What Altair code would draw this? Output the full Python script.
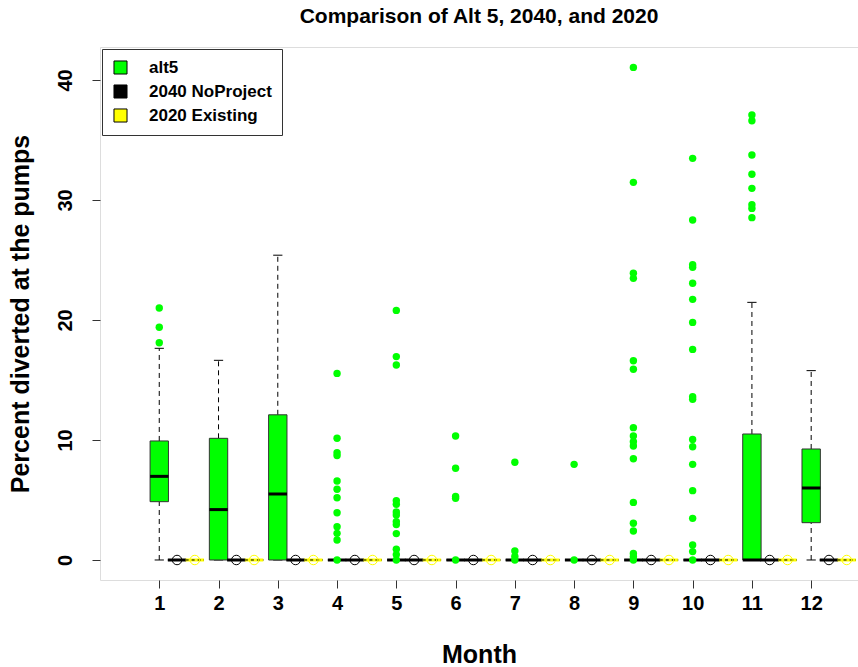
import altair as alt
import pandas as pd

# ---------------- data ----------------
months = [1, 2, 3, 4, 5, 6, 7, 8, 9, 10, 11, 12]
series = ["alt5", "2040 NoProject", "2020 Existing"]
series_offset = [0.0, 0.3, 0.6]
series_fill = ["#00FF00", "#000000", "#FFFF00"]
series_medcol = ["#000000", "#000000", "#FFFF00"]
series_ptcol = ["#00FF00", "#000000", "#FFFF00"]

# alt5 box statistics per month
alt5_lo = [0, 0, 0, 0, 0, 0, 0, 0, 0, 0, 0, 0]
alt5_q1 = [4.86, 0, 0, 0, 0, 0, 0, 0, 0, 0, 0, 3.11]
alt5_med = [6.97, 4.2, 5.5, 0, 0, 0, 0, 0, 0, 0, 0, 6.0]
alt5_q3 = [9.92, 10.14, 12.1, 0, 0, 0, 0, 0, 0, 0, 10.5, 9.25]
alt5_hi = [17.64, 16.64, 25.4, 0, 0, 0, 0, 0, 0, 0, 21.47, 15.78]

# 2040 NoProject and 2020 Existing: all statistics at zero
np2040_lo = [0, 0, 0, 0, 0, 0, 0, 0, 0, 0, 0, 0]
np2040_q1 = [0, 0, 0, 0, 0, 0, 0, 0, 0, 0, 0, 0]
np2040_med = [0, 0, 0, 0, 0, 0, 0, 0, 0, 0, 0, 0]
np2040_q3 = [0, 0, 0, 0, 0, 0, 0, 0, 0, 0, 0, 0]
np2040_hi = [0, 0, 0, 0, 0, 0, 0, 0, 0, 0, 0, 0]
ex2020_lo = [0, 0, 0, 0, 0, 0, 0, 0, 0, 0, 0, 0]
ex2020_q1 = [0, 0, 0, 0, 0, 0, 0, 0, 0, 0, 0, 0]
ex2020_med = [0, 0, 0, 0, 0, 0, 0, 0, 0, 0, 0, 0]
ex2020_q3 = [0, 0, 0, 0, 0, 0, 0, 0, 0, 0, 0, 0]
ex2020_hi = [0, 0, 0, 0, 0, 0, 0, 0, 0, 0, 0, 0]

# alt5 outliers per month
alt5_out = {
    1: [21.0, 19.4, 18.1],
    2: [],
    3: [],
    4: [15.55, 10.14, 8.94, 8.7, 6.58, 5.89, 5.19, 3.94, 2.78, 2.22, 1.67, 0.0],
    5: [20.8, 16.95, 16.25, 4.95, 4.65, 4.0, 3.75, 3.2, 2.95, 2.2, 0.9, 0.45, 0.0],
    6: [10.33, 7.64, 5.3, 5.15, 0.0],
    7: [8.14, 0.75, 0.3, 0.0],
    8: [7.97, 0.0],
    9: [41.05, 31.47, 23.89, 23.47, 16.6, 15.9, 11.03, 10.33, 9.86, 9.5, 8.44,
        4.8, 3.06, 2.42, 0.55, 0.28, 0.0],
    10: [33.47, 28.33, 24.6, 24.4, 23.06, 21.72, 19.8, 17.55, 13.6, 13.4, 10.05,
         9.44, 7.97, 5.78, 3.47, 1.25, 0.7, 0.0],
    11: [37.08, 36.6, 33.75, 32.14, 30.97, 29.6, 29.3, 28.53],
    12: [],
}
# 2040 / 2020 outliers (open circles at zero)
np2040_out = [0, 0, 0, 0, 0, 0, 0, 0, 0, 0, 0, 0]
ex2020_out = [0, 0, 0, 0, 0, 0, 0, 0, 0, 0, 0, 0]

x_ticks = [1, 2, 3, 4, 5, 6, 7, 8, 9, 10, 11, 12]
y_ticks = [0, 10, 20, 30, 40]

# ---------------- tables ----------------
half_box = 0.155
half_cap = 0.078
stats = {
    "alt5": (alt5_lo, alt5_q1, alt5_med, alt5_q3, alt5_hi),
    "2040 NoProject": (np2040_lo, np2040_q1, np2040_med, np2040_q3, np2040_hi),
    "2020 Existing": (ex2020_lo, ex2020_q1, ex2020_med, ex2020_q3, ex2020_hi),
}
rows = []
for s, off, mc in zip(series, series_offset, series_medcol):
    lo, q1, med, q3, hi = stats[s]
    for i, m in enumerate(months):
        p = m + off
        rows.append(dict(series=s, pos=p, bx1=p - half_box, bx2=p + half_box,
                         cx1=p - half_cap, cx2=p + half_cap,
                         lo=lo[i], q1=q1[i], med=med[i], q3=q3[i], hi=hi[i],
                         medcol=mc))
boxes = pd.DataFrame(rows)

pts = []
for m in months:
    for v in alt5_out[m]:
        pts.append(dict(pos=m + series_offset[0], val=v))
alt5_pts = pd.DataFrame(pts)

opts = []
for i, m in enumerate(months):
    opts.append(dict(pos=m + series_offset[1], val=np2040_out[i], col=series_ptcol[1]))
    opts.append(dict(pos=m + series_offset[2], val=ex2020_out[i], col=series_ptcol[2]))
open_pts = pd.DataFrame(opts)

# ---------------- scales / axes ----------------
FONT = "Liberation Sans"
xscale = alt.Scale(domain=[0.0, 12.79], nice=False, zero=False)
yscale = alt.Scale(domain=[-1.667, 42.75], nice=False, zero=False)
xax = alt.Axis(values=x_ticks, title="Month", format="d", grid=False, domain=False,
               tickSize=8, tickColor="#333333", labelFont=FONT, labelFontSize=20,
               labelFontWeight="bold", labelColor="black", labelPadding=5,
               titleFont=FONT, titleFontSize=25, titleFontWeight="bold",
               titleColor="black", titlePadding=29, labelFlush=False)
yax = alt.Axis(values=y_ticks, title="Percent diverted at the pumps", grid=False,
               domain=False, tickSize=8, tickColor="#333333", labelFont=FONT,
               labelFontSize=20, labelFontWeight="bold", labelColor="black",
               labelAngle=270, labelPadding=17, titleFont=FONT, titleFontSize=25,
               titleFontWeight="bold", titleColor="black", titlePadding=22,
               labelFlush=False)

base_box = alt.Chart(boxes)

whisk_up = base_box.mark_rule(color="black", strokeWidth=1, strokeDash=[5, 4]).encode(
    x=alt.X("pos:Q", scale=xscale, axis=xax),
    y=alt.Y("q3:Q", scale=yscale, axis=yax),
    y2="hi:Q",
)
whisk_dn = base_box.mark_rule(color="black", strokeWidth=1, strokeDash=[5, 4]).encode(
    x=alt.X("pos:Q", scale=xscale, axis=xax),
    y=alt.Y("lo:Q", scale=yscale, axis=yax),
    y2="q1:Q",
)
cap_hi = base_box.mark_rule(color="black", strokeWidth=1).encode(
    x=alt.X("cx1:Q", scale=xscale, axis=xax), x2="cx2:Q",
    y=alt.Y("hi:Q", scale=yscale, axis=yax),
)
cap_lo = base_box.mark_rule(color="black", strokeWidth=1).encode(
    x=alt.X("cx1:Q", scale=xscale, axis=xax), x2="cx2:Q",
    y=alt.Y("lo:Q", scale=yscale, axis=yax),
)
rects = base_box.mark_rect(stroke="#333333", strokeWidth=1).encode(
    x=alt.X("bx1:Q", scale=xscale, axis=xax), x2="bx2:Q",
    y=alt.Y("q1:Q", scale=yscale, axis=yax), y2="q3:Q",
    fill=alt.Fill("series:N", scale=alt.Scale(domain=series, range=series_fill),
                  legend=alt.Legend(
                      orient="none", legendX=2, legendY=2, title=None,
                      symbolType="square", symbolSize=170,
                      symbolStrokeColor="black", symbolStrokeWidth=1,
                      symbolOpacity=1, labelFont=FONT, labelFontSize=17,
                      labelFontWeight="bold", labelColor="black",
                      labelOffset=20, padding=10, rowPadding=5,
                      strokeColor="#333333", fillColor="white",
                      cornerRadius=0)),
)
medians = base_box.mark_rule(strokeWidth=3).encode(
    x=alt.X("bx1:Q", scale=xscale, axis=xax), x2="bx2:Q",
    y=alt.Y("med:Q", scale=yscale, axis=yax),
    color=alt.Color("medcol:N", scale=None),
)
med2020 = base_box.transform_filter(alt.datum.series == "2020 Existing").mark_rule(
    strokeWidth=1, color="black", strokeDash=[3, 3]).encode(
    x=alt.X("bx1:Q", scale=xscale, axis=xax), x2="bx2:Q",
    y=alt.Y("med:Q", scale=yscale, axis=yax),
)
green_pts = alt.Chart(alt5_pts).mark_circle(size=55, opacity=1, color="#00FF00").encode(
    x=alt.X("pos:Q", scale=xscale, axis=xax),
    y=alt.Y("val:Q", scale=yscale, axis=yax),
)
hollow = alt.Chart(open_pts).mark_point(shape="circle", size=90, filled=False,
                                        strokeWidth=1, opacity=1).encode(
    x=alt.X("pos:Q", scale=xscale, axis=xax),
    y=alt.Y("val:Q", scale=yscale, axis=yax),
    stroke=alt.Stroke("col:N", scale=None),
)

chart = alt.layer(
    whisk_up, whisk_dn, cap_hi, cap_lo, rects, medians, med2020, green_pts, hollow
).properties(
    width=758, height=533,
    title=alt.TitleParams("Comparison of Alt 5, 2040, and 2020", font=FONT,
                          fontSize=21, fontWeight="bold", color="black",
                          anchor="middle", offset=20),
    autosize=alt.AutoSizeParams(type="none"),
    padding={"left": 100, "top": 47, "right": 0, "bottom": 87},
).configure_view(
    stroke="#333333", strokeWidth=1
).configure(background="white")

chart.save("out.html", embed_options={"renderer": "svg", "actions": False})
